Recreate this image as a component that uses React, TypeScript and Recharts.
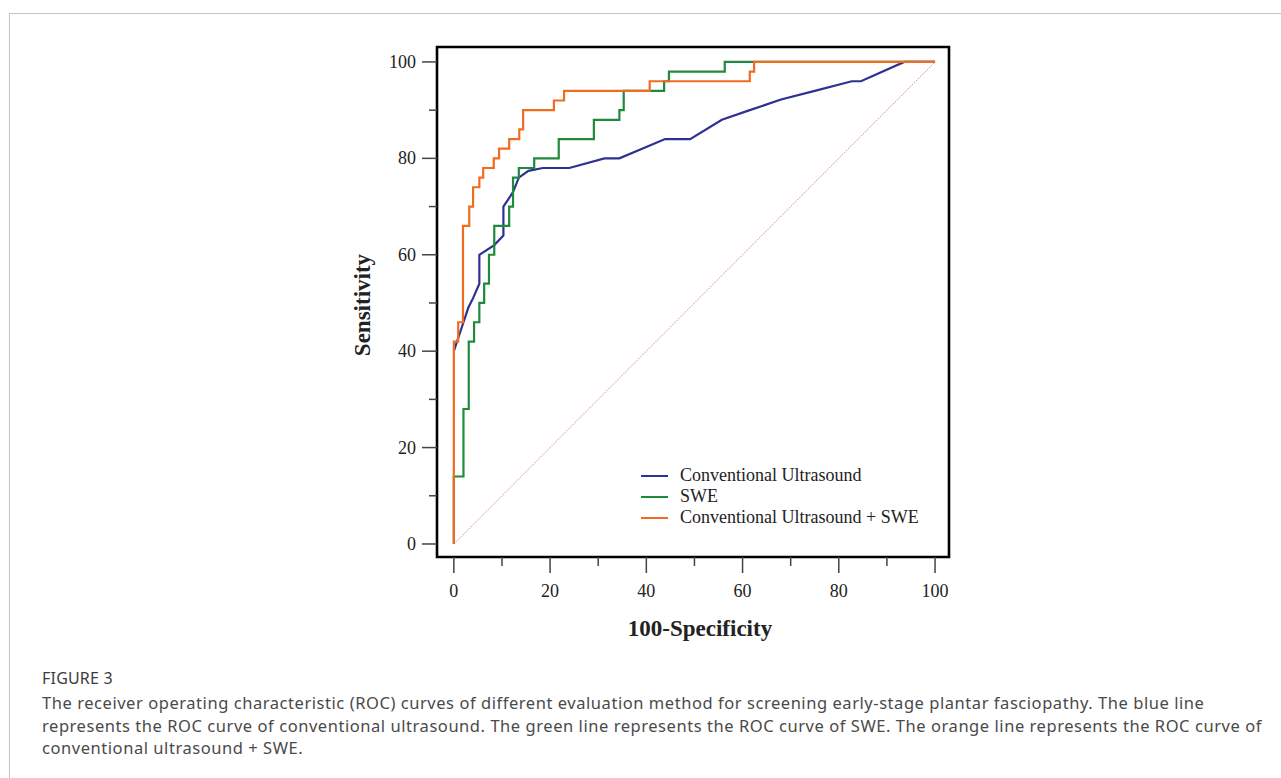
import React from "react";
import { LineChart, Line, XAxis, YAxis, ReferenceArea, Legend, Label } from "recharts";

// ---- data ----
const comboFpr = [0, 0, 0.9, 0.9, 1.9, 1.9, 3.2, 3.2, 4, 4, 5.3, 5.3, 6.1, 6.1, 8.3, 8.3, 9.4, 9.4, 11.5, 11.5, 13.6, 13.6, 14.4, 14.4, 20.8, 20.8, 22.9, 22.9, 40.7, 40.7, 61.5, 61.5, 62.4, 62.4, 100];
const comboTpr = [0, 42, 42, 46, 46, 66, 66, 70, 70, 74, 74, 76, 76, 78, 78, 80, 80, 82, 82, 84, 84, 86, 86, 90, 90, 92, 92, 94, 94, 96, 96, 98, 98, 100, 100];

const sweFpr = [0, 0, 2, 2, 3.1, 3.1, 4.2, 4.2, 5.3, 5.3, 6.3, 6.3, 7.3, 7.3, 8.4, 8.4, 11.5, 11.5, 12.3, 12.3, 13.5, 13.5, 16.7, 16.7, 21.8, 21.8, 29.1, 29.1, 34.4, 34.4, 35.3, 35.3, 43.7, 43.7, 44.7, 44.7, 56.3, 56.3, 100];
const sweTpr = [0, 14, 14, 28, 28, 42, 42, 46, 46, 50, 50, 54, 54, 60, 60, 66, 66, 70, 70, 76, 76, 78, 78, 80, 80, 84, 84, 88, 88, 90, 90, 94, 94, 96, 96, 98, 98, 100, 100];

const usFpr = [0, 1, 2, 3, 4, 5.3, 5.3, 8.4, 10.3, 10.3, 12.3, 13.5, 15.5, 18.5, 24, 31.3, 34.4, 43.9, 49.1, 55.7, 61.5, 68, 75, 82.7, 84.6, 93.6, 100];
const usTpr = [40, 43, 46, 49, 51, 54, 60, 62, 64, 70, 73, 76, 77.4, 78, 78, 80, 80, 84, 84, 88, 90, 92.2, 94, 96, 96, 100, 100];

const chanceFpr = [0, 100];
const chanceTpr = [0, 100];

const seriesNames = ["Conventional Ultrasound", "SWE", "Conventional Ultrasound + SWE"];
const seriesColors = ["#2e3192", "#1f8a3b", "#f26b22"];

const axisTicks = [0, 10, 20, 30, 40, 50, 60, 70, 80, 90, 100];

const captionTitle = "FIGURE 3";
const captionLines = [
  "The receiver operating characteristic (ROC) curves of different evaluation method for screening early-stage plantar fasciopathy. The blue line",
  "represents the ROC curve of conventional ultrasound. The green line represents the ROC curve of SWE. The orange line represents the ROC curve of",
  "conventional ultrasound + SWE.",
];

const toPoints = (xs: number[], ys: number[]) => xs.map((x, i) => ({ x, y: ys[i] }));

const usData = toPoints(usFpr, usTpr);
const sweData = toPoints(sweFpr, sweTpr);
const comboData = toPoints(comboFpr, comboTpr);
const chanceData = toPoints(chanceFpr, chanceTpr);

const X_DOMAIN: [number, number] = [-3.5, 102.9];
const Y_DOMAIN: [number, number] = [-2.7, 103.1];

const serif = "'Liberation Serif', 'Times New Roman', serif";

const XTick = (props: any) => {
  const { x, y, payload } = props;
  const major = payload.value % 20 === 0;
  return (
    <g>
      <line x1={x} x2={x} y1={y} y2={y + (major ? 16 : 9)} stroke="#444" strokeWidth={1.5} />
      {major && (
        <text x={x} y={y + 40} textAnchor="middle" fontFamily={serif} fontSize={18} fill="#222">
          {payload.value}
        </text>
      )}
    </g>
  );
};

const YTick = (props: any) => {
  const { x, y, payload } = props;
  const major = payload.value % 20 === 0;
  return (
    <g>
      <line x1={x} x2={x - (major ? 15 : 8)} y1={y} y2={y} stroke="#444" strokeWidth={1.5} />
      {major && (
        <text x={x - 21} y={y + 6} textAnchor="end" fontFamily={serif} fontSize={18} fill="#222">
          {payload.value}
        </text>
      )}
    </g>
  );
};

const LegendContent = () => (
  <div style={{ fontFamily: serif, fontSize: 18, color: "#222" }}>
    {seriesNames.map((n, i) => (
      <div key={n} style={{ display: "flex", alignItems: "center", height: 21 }}>
        <svg width={40} height={21} style={{ display: "block" }}>
          <line x1={1} x2={28} y1={11} y2={11} stroke={seriesColors[i]} strokeWidth={2} />
        </svg>
        <span style={{ whiteSpace: "nowrap" }}>{n}</span>
      </div>
    ))}
  </div>
);

export default function App() {
  const W = 1281;
  const H = 660;
  const plotLeft = 437;
  const plotTop = 47;
  const plotRight = 949;
  const plotBottom = 557;
  const yAxisW = 60;
  const xAxisH = 60;
  return (
    <div style={{ position: "absolute", left: 0, top: 0, width: 1281, height: 778, overflow: "hidden", background: "#fff" }}>
      <div
        style={{
          position: "absolute",
          left: 9,
          top: 13,
          width: 1400,
          height: 900,
          borderLeft: "1.5px solid #c4c4c4",
          borderTop: "1.5px solid #c4c4c4",
        }}
      />
      <div style={{ position: "absolute", left: 0, top: 0 }}>
        <LineChart
          width={W}
          height={H}
          margin={{ left: plotLeft - yAxisW, top: plotTop, right: W - plotRight, bottom: H - plotBottom - xAxisH }}
        >
          <XAxis
            dataKey="x"
            type="number"
            domain={X_DOMAIN}
            ticks={axisTicks}
            allowDataOverflow
            axisLine={false}
            tickLine={false}
            tickSize={0}
            tickMargin={0}
            tick={<XTick />}
            height={xAxisH}
            interval={0}
          >
            <Label
              content={() => (
                <text x={700} y={plotBottom + 79} textAnchor="middle" fontFamily={serif} fontWeight="bold" fontSize={23} fill="#222">
                  100-Specificity
                </text>
              )}
            />
          </XAxis>
          <YAxis
            dataKey="y"
            type="number"
            domain={Y_DOMAIN}
            ticks={axisTicks}
            allowDataOverflow
            axisLine={false}
            tickLine={false}
            tickSize={0}
            tickMargin={0}
            tick={<YTick />}
            width={yAxisW}
            interval={0}
          >
            <Label
              content={() => {
                const cx = 370;
                const cy = 305;
                return (
                  <text x={cx} y={cy} transform={`rotate(-90 ${cx} ${cy})`} textAnchor="middle" fontFamily={serif} fontWeight="bold" fontSize={23} fill="#222">
                    Sensitivity
                  </text>
                );
              }}
            />
          </YAxis>
          <Line
            data={chanceData}
            dataKey="y"
            type="linear"
            stroke="#e39a96"
            strokeWidth={1}
            strokeDasharray="2 1"
            dot={false}
            activeDot={false}
            isAnimationActive={false}
            legendType="none"
          />
          <Line data={usData} dataKey="y" name={seriesNames[0]} type="linear" stroke={seriesColors[0]} strokeWidth={2.2} dot={false} isAnimationActive={false} />
          <Line data={sweData} dataKey="y" name={seriesNames[1]} type="linear" stroke={seriesColors[1]} strokeWidth={2.2} dot={false} isAnimationActive={false} />
          <Line data={comboData} dataKey="y" name={seriesNames[2]} type="linear" stroke={seriesColors[2]} strokeWidth={2.2} dot={false} isAnimationActive={false} />
          <ReferenceArea
            x1={X_DOMAIN[0]}
            x2={X_DOMAIN[1]}
            y1={Y_DOMAIN[0]}
            y2={Y_DOMAIN[1]}
            fill="none"
            fillOpacity={0}
            stroke="#000"
            strokeWidth={2.6}
            ifOverflow="visible"
          />
          <Legend
            layout="vertical"
            align="center"
            verticalAlign="middle"
            content={<LegendContent />}
            wrapperStyle={{ position: "absolute", left: 640, top: 465, width: 300 }}
          />
        </LineChart>
      </div>
      <div
        style={{
          position: "absolute",
          left: 42,
          top: 668,
          fontFamily: "'Noto Sans', 'Open Sans', sans-serif",
          color: "#4a4a4a",
        }}
      >
        <div style={{ fontSize: 16, letterSpacing: 0.2, lineHeight: "20px", color: "#3c3c3c", marginBottom: 4 }}>{captionTitle}</div>
        {captionLines.map((l) => (
          <div key={l} style={{ fontSize: 16.5, letterSpacing: 0.55, lineHeight: "22.5px", whiteSpace: "nowrap" }}>
            {l}
          </div>
        ))}
      </div>
    </div>
  );
}
